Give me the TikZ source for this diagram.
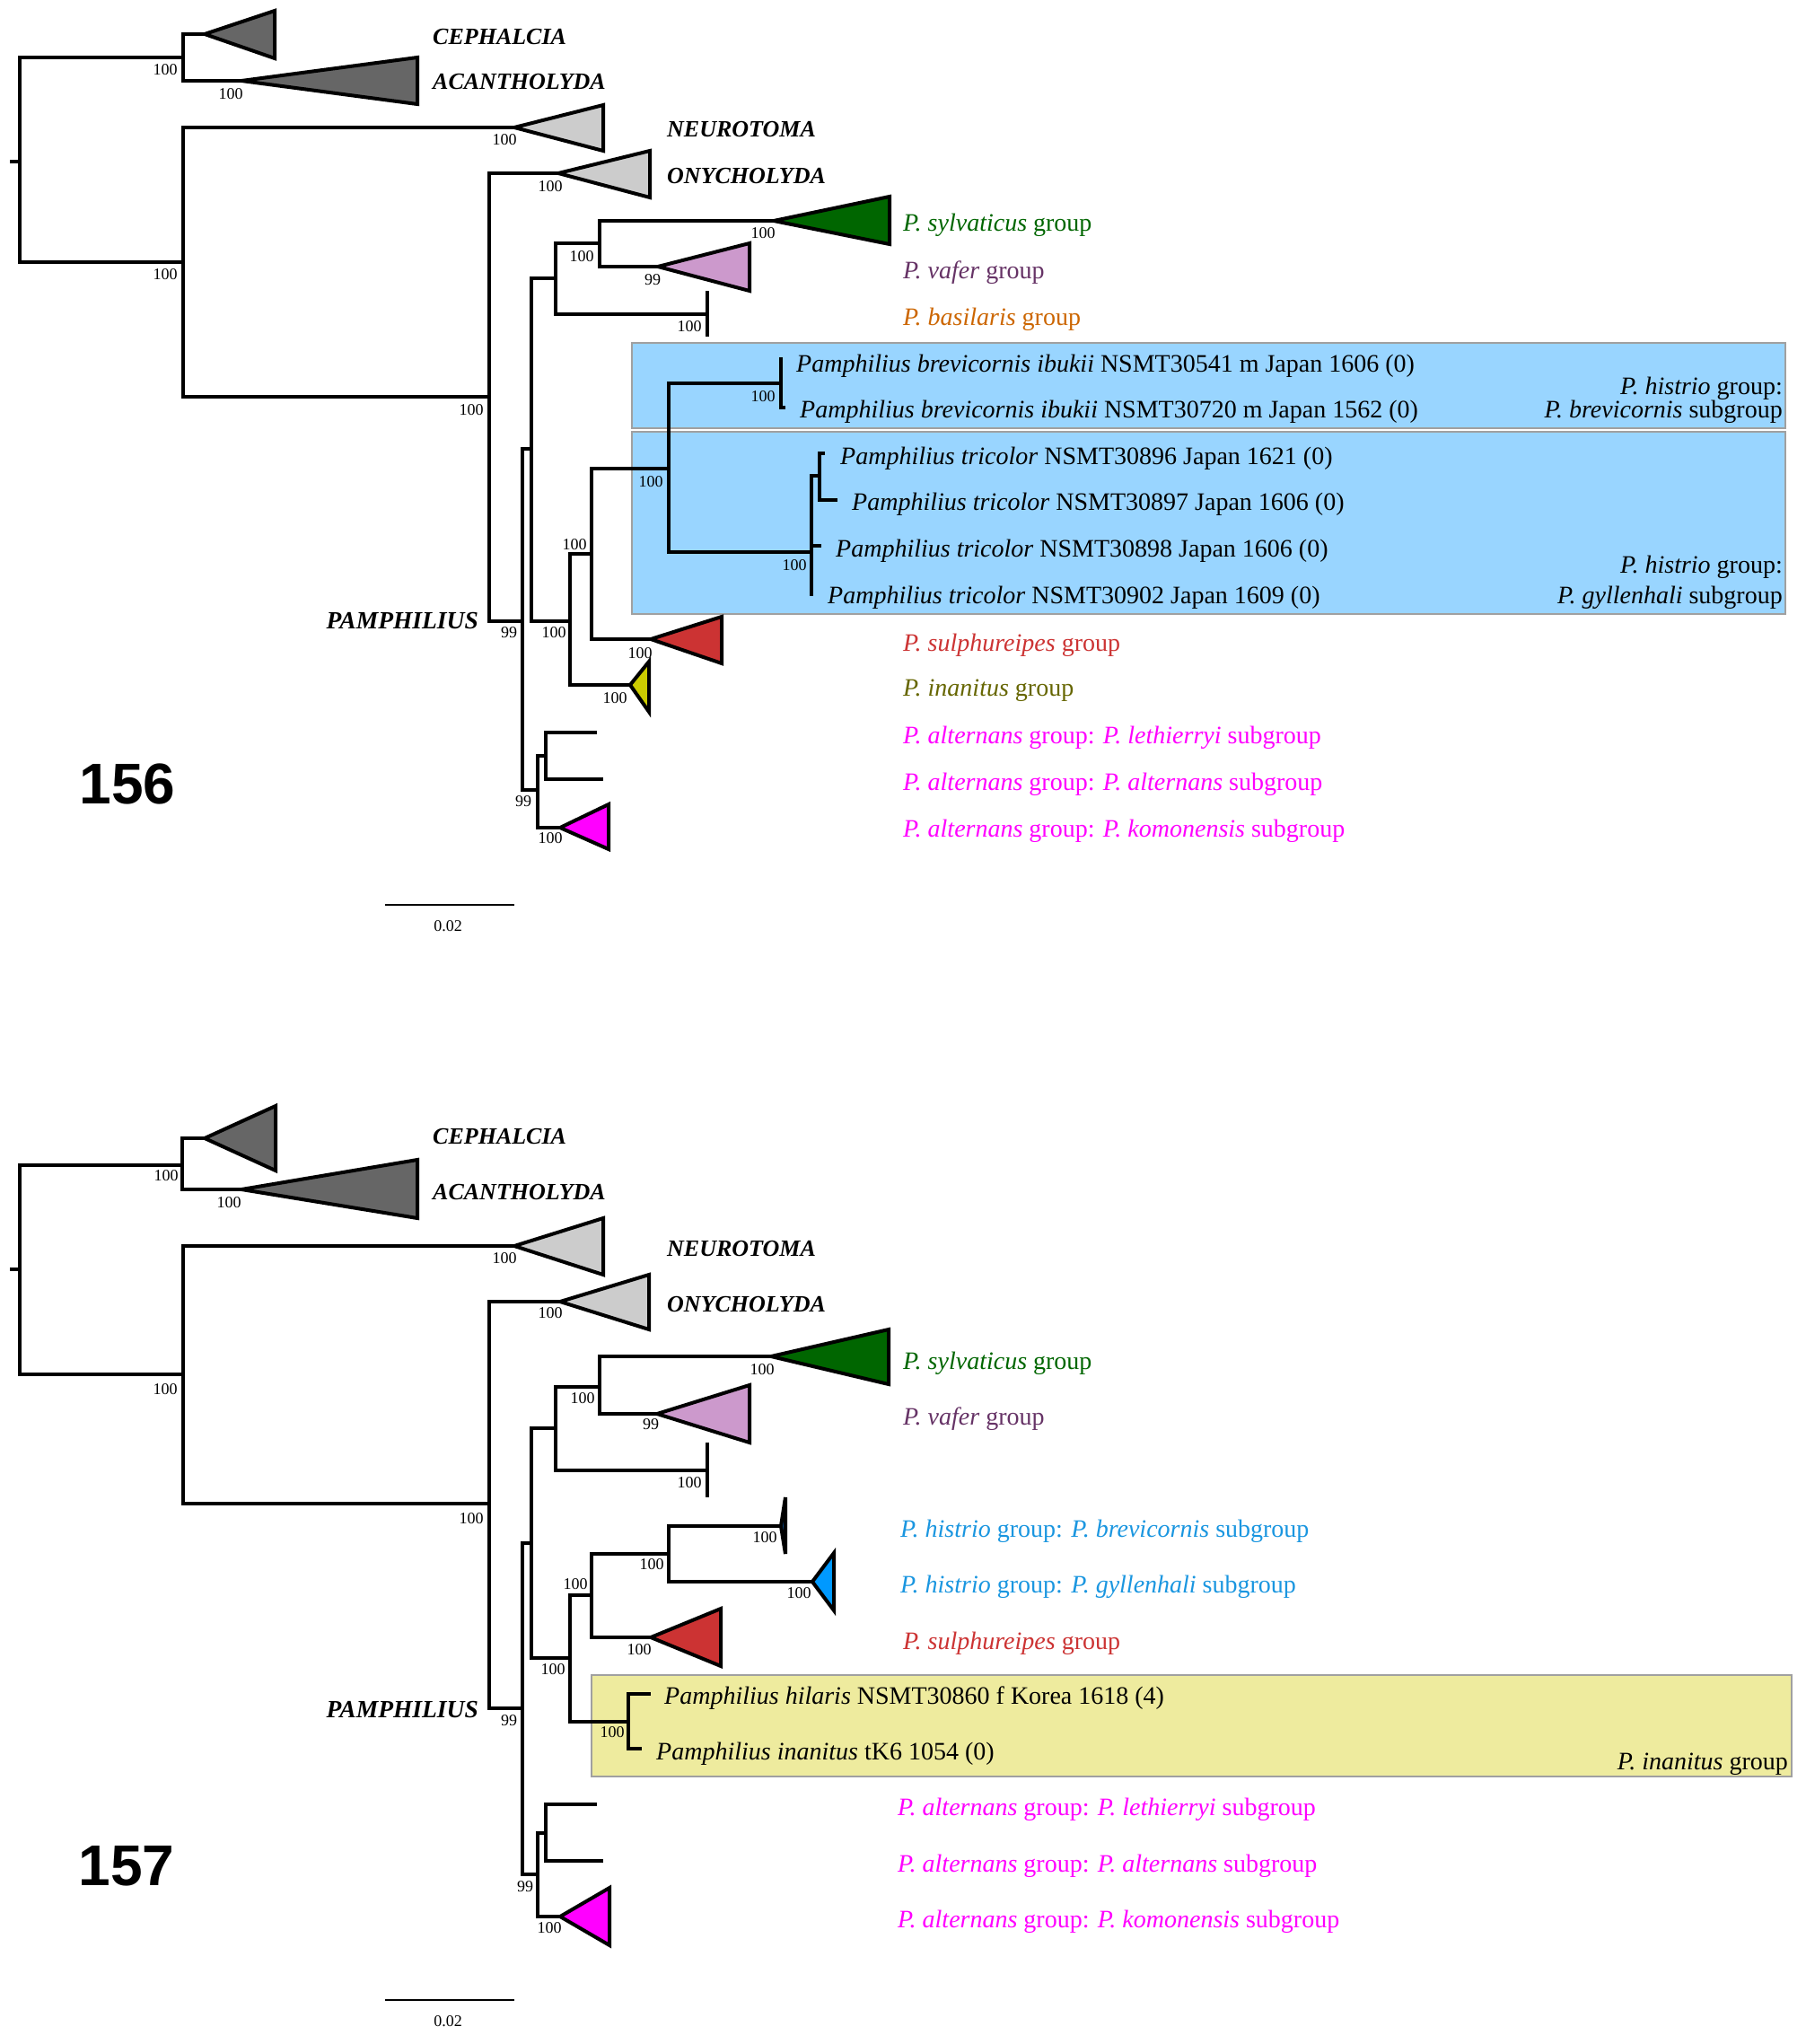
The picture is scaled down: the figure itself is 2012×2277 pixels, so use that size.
\documentclass[tikz,border=0pt]{standalone}
\usepackage{fontspec}
\setmainfont{Liberation Serif}
\newfontfamily\panelfont{Liberation Sans}
\usepackage{tikz}
\newcommand{\labfont}{\fontsize{28}{30}\selectfont}
\newcommand{\supfont}{\fontsize{18}{20}\selectfont}
\newcommand{\taxfont}{\fontsize{26}{28}\selectfont\bfseries\itshape}
\newcommand{\numfont}{\fontsize{64}{66}\selectfont\panelfont\bfseries}
\definecolor{cladedark}{HTML}{666666}
\definecolor{cladelight}{HTML}{CCCCCC}
\definecolor{sylv}{HTML}{006600}
\definecolor{vaferfill}{HTML}{CC99CC}
\definecolor{vafertext}{HTML}{663366}
\definecolor{basil}{HTML}{CC6600}
\definecolor{sulph}{HTML}{CC3333}
\definecolor{inanfill}{HTML}{CCCC00}
\definecolor{inantext}{HTML}{666600}
\definecolor{altern}{HTML}{FF00FF}
\definecolor{histrio}{HTML}{0099FF}
\definecolor{histriotext}{HTML}{1A96E0}
\definecolor{brevfill}{HTML}{0A4A8A}
\definecolor{blueback}{HTML}{99D5FF}
\definecolor{yellowback}{HTML}{EEEB9E}
\definecolor{boxedge}{HTML}{A0A0A0}

\begin{document}
\begin{tikzpicture}[
  x=1pt,y=-1pt,
  branch/.style={line width=3.6pt,line cap=rect},
  clade/.style={draw,line width=4pt,line join=miter},
  sup/.style={inner sep=0pt,font=\supfont},
  taxon/.style={anchor=west,inner sep=0pt,font=\taxfont},
  lab/.style={anchor=west,inner sep=0pt,yshift=-3pt,font=\labfont},
  rlab/.style={anchor=east,inner sep=0pt,yshift=-3pt,font=\labfont},
  hibox/.style={draw=boxedge,line width=2.5pt},
  scalebar/.style={line width=2pt}
]
\useasboundingbox[fill=white] (0,0) rectangle (2012,2277);

% highlight boxes
\draw[hibox,fill=blueback] (704,382) rectangle (1989,477);
\draw[hibox,fill=blueback] (704,481) rectangle (1989,684);
\draw[hibox,fill=yellowback] (659,1866) rectangle (1996,1979);

% tree 156
\foreach \n/\x/\y in {astub/13/180,aroot/22/180,aout/204/64,aceph/228/38,aacan/269/90,
  aing/204/292,aneur/573/142,ann/545/442,aony/622/193,apam/582/692,ap1/592/500,
  ap2/619/310,ap3/668/271,asyl/862/246,avaf/733/297,abas/788/350,ap4/635/692,
  ap5/659/617,ap6/745/522,abrev/870/427,abrev1/870/400,abrev2/873/454,
  atri/904/615,atri1/913/530,at1/917/505,at2/931/557,at3/913/608,at4/904/662,
  ared/725/712,ayel/702/763,aalt/599/880,aalt1/608/842,aleth/663/816,
  aaltn/670/868,akom/624/922}
  \coordinate (\n) at (\x,\y);
\draw[branch] (astub) -- (aroot);
\foreach \p/\c in {aroot/aout,aroot/aing,aout/aceph,aout/aacan,aing/aneur,aing/ann,
  ann/aony,ann/apam,apam/ap1,apam/aalt,ap1/ap2,ap1/ap4,ap2/ap3,ap2/abas,ap3/asyl,
  ap3/avaf,ap4/ap5,ap4/ayel,ap5/ap6,ap5/ared,ap6/abrev,ap6/atri,abrev/abrev1,
  abrev/abrev2,atri/atri1,atri/at3,atri/at4,atri1/at1,atri1/at2,aalt/aalt1,
  aalt/akom,aalt1/aleth,aalt1/aaltn}
  \draw[branch] (\p) |- (\c);
\draw[branch,line cap=butt] (abas) ++(0,-26) -- ++(0,51);
\foreach \n/\c/\w/\u/\d in {aceph/cladedark/78/26/27,aacan/cladedark/196/26/26,
  aneur/cladelight/99/25/26,aony/cladelight/102/25/27,asyl/sylv/129/27/26,
  avaf/vaferfill/102/26/27,ared/sulph/79/25/27,ayel/inanfill/21/26/30,
  akom/altern/54/26/24}
  \draw[clade,fill=\c] (\n) -- ++(\w,-\u) -- ++(0,\u+\d) -- cycle;
\foreach \x/\y/\v [count=\i] in {184/78/100,257/105/100,184/306/100,562/156/100,
  525/457/100,613/208/100,567/705/99,648/286/100,850/260/100,727/312/99,
  768/364/100,617/705/100,640/607/100,725/537/100,850/442/100,885/630/100,
  713/728/100,685/778/100,583/893/99,613/934/100}
  \node[sup] (asup\i) at (\x,\y) {\v};

\node[taxon] (acephlab) at (482,41) {CEPHALCIA};
\node[taxon] (aacanlab) at (482,91) {ACANTHOLYDA};
\node[taxon] (aneurlab) at (743,144) {NEUROTOMA};
\node[taxon] (aonylab) at (743,196) {ONYCHOLYDA};
\node[taxon,anchor=east,font=\fontsize{27.5}{30}\selectfont\bfseries\itshape] (apamlab) at (533,692) {PAMPHILIUS};
\node[lab,text=sylv] (asyllab) at (1006,248) {\textit{P. sylvaticus} group};
\node[lab,text=vafertext] (avaflab) at (1006,301) {\textit{P. vafer} group};
\node[lab,text=basil] (abaslab) at (1006,353) {\textit{P. basilaris} group};
\node[lab] (abrevlab1) at (887,405) {\textit{Pamphilius brevicornis ibukii} NSMT30541 m Japan 1606 (0)};
\node[lab] (abrevlab2) at (891,456) {\textit{Pamphilius brevicornis ibukii} NSMT30720 m Japan 1562 (0)};
\node[lab] (atrilab1) at (936,508) {\textit{Pamphilius tricolor} NSMT30896 Japan 1621 (0)};
\node[lab] (atrilab2) at (949,559) {\textit{Pamphilius tricolor} NSMT30897 Japan 1606 (0)};
\node[lab] (atrilab3) at (931,611) {\textit{Pamphilius tricolor} NSMT30898 Japan 1606 (0)};
\node[lab] (atrilab4) at (922,663) {\textit{Pamphilius tricolor} NSMT30902 Japan 1609 (0)};
\node[rlab] (ahis1) at (1986,430) {\textit{P. histrio} group:};
\node[rlab] (ahis2) at (1986,456) {\textit{P. brevicornis} subgroup};
\node[rlab] (ahis3) at (1986,629) {\textit{P. histrio} group:};
\node[rlab] (ahis4) at (1986,663) {\textit{P. gyllenhali} subgroup};
\node[lab,text=sulph] (aredlab) at (1006,716) {\textit{P. sulphureipes} group};
\node[lab,text=inantext] (ayellab) at (1006,766) {\textit{P. inanitus} group};
\node[lab,text=altern] (alethlab) at (1006,819) {\textit{P. alternans} group: \textit{P. lethierryi} subgroup};
\node[lab,text=altern] (aaltlab) at (1006,871) {\textit{P. alternans} group: \textit{P. alternans} subgroup};
\node[lab,text=altern] (akomlab) at (1006,923) {\textit{P. alternans} group: \textit{P. komonensis} subgroup};
\node[inner sep=0pt,font=\numfont] (apanel) at (142,873) {156};
\coordinate (asc1) at (429,1008);
\coordinate (asc2) at (573,1008);
\draw[scalebar] (asc1) -- (asc2);
\node[sup] (asclab) at (499,1032) {0.02};

% tree 157
\foreach \n/\x/\y in {bstub/13/1414,broot/22/1414,bout/203/1298,bceph/228/1268,
  bacan/269/1325,bing/204/1531,bneur/573/1388,bnn/545/1675,bony/624/1450,
  bpam/582/1903,bp1/592/1719,bp2/619/1591,bp3/668/1545,bsyl/859/1511,
  bvaf/732/1575,bbas/788/1638,bp4/635/1847,bp5/659/1777,bp6/745/1731,
  bbrev/870/1700,bgyl/905/1762,bred/725/1824,bina/700/1918,bina1/723/1887,
  bina2/713/1948,balt/599/2088,balt1/608/2042,bleth/663/2010,baltn/670/2073,
  bkom/624/2135}
  \coordinate (\n) at (\x,\y);
\draw[branch] (bstub) -- (broot);
\foreach \p/\c in {broot/bout,broot/bing,bout/bceph,bout/bacan,bing/bneur,bing/bnn,
  bnn/bony,bnn/bpam,bpam/bp1,bpam/balt,bp1/bp2,bp1/bp4,bp2/bp3,bp2/bbas,bp3/bsyl,
  bp3/bvaf,bp4/bp5,bp4/bina,bp5/bp6,bp5/bred,bp6/bbrev,bp6/bgyl,bina/bina1,
  bina/bina2,balt/balt1,balt/bkom,balt1/bleth,balt1/baltn}
  \draw[branch] (\p) |- (\c);
\draw[branch,line cap=butt] (bbas) ++(0,-31) -- ++(0,61);
\foreach \n/\c/\w/\u/\d in {bceph/cladedark/79/36/36,bacan/cladedark/196/33/32,
  bneur/cladelight/99/31/32,bony/cladelight/99/30/31,bsyl/sylv/131/30/31,
  bvaf/vaferfill/103/32/32,bbrev/brevfill/5/32/31,bgyl/histrio/24/32/32,
  bred/sulph/78/32/32,bkom/altern/55/32/32}
  \draw[clade,fill=\c] (\n) -- ++(\w,-\u) -- ++(0,\u+\d) -- cycle;
\foreach \x/\y/\v [count=\i] in {185/1310/100,255/1340/100,184/1548/100,
  562/1402/100,613/1463/100,525/1692/100,567/1917/99,649/1558/100,849/1526/100,
  725/1587/99,768/1652/100,616/1860/100,641/1765/100,726/1743/100,852/1713/100,
  890/1775/100,712/1838/100,682/1930/100,585/2102/99,612/2148/100}
  \node[sup] (bsup\i) at (\x,\y) {\v};

\node[taxon] (bcephlab) at (482,1266) {CEPHALCIA};
\node[taxon] (bacanlab) at (482,1328) {ACANTHOLYDA};
\node[taxon] (bneurlab) at (743,1391) {NEUROTOMA};
\node[taxon] (bonylab) at (743,1453) {ONYCHOLYDA};
\node[taxon,anchor=east,font=\fontsize{27.5}{30}\selectfont\bfseries\itshape] (bpamlab) at (533,1905) {PAMPHILIUS};
\node[lab,text=sylv] (bsyllab) at (1006,1516) {\textit{P. sylvaticus} group};
\node[lab,text=vafertext] (bvaflab) at (1006,1578) {\textit{P. vafer} group};
\node[lab,text=histriotext] (bbrevlab) at (1003,1703) {\textit{P. histrio} group: \textit{P. brevicornis} subgroup};
\node[lab,text=histriotext] (bgyllab) at (1003,1765) {\textit{P. histrio} group: \textit{P. gyllenhali} subgroup};
\node[lab,text=sulph] (bredlab) at (1006,1828) {\textit{P. sulphureipes} group};
\node[lab] (binalab1) at (740,1889) {\textit{Pamphilius hilaris} NSMT30860 f Korea 1618 (4)};
\node[lab] (binalab2) at (731,1951) {\textit{Pamphilius inanitus} tK6 1054 (0)};
\node[rlab] (binagrp) at (1992,1962) {\textit{P. inanitus} group};
\node[lab,text=altern] (blethlab) at (1000,2013) {\textit{P. alternans} group: \textit{P. lethierryi} subgroup};
\node[lab,text=altern] (baltlab) at (1000,2076) {\textit{P. alternans} group: \textit{P. alternans} subgroup};
\node[lab,text=altern] (bkomlab) at (1000,2138) {\textit{P. alternans} group: \textit{P. komonensis} subgroup};
\node[inner sep=0pt,font=\numfont] (bpanel) at (141,2079) {157};
\coordinate (bsc1) at (429,2228);
\coordinate (bsc2) at (573,2228);
\draw[scalebar] (bsc1) -- (bsc2);
\node[sup] (bsclab) at (499,2252) {0.02};
\end{tikzpicture}
\end{document}
